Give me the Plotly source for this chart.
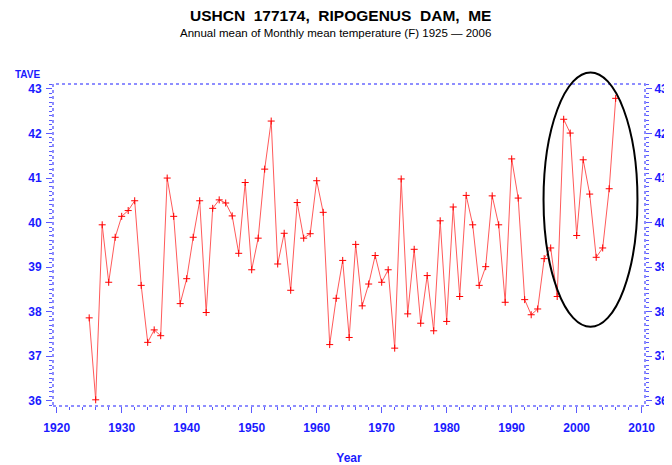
import plotly.graph_objects as go

years = list(range(1925, 2007))
tave = [37.86, 36.02, 39.95, 38.66, 39.67, 40.14, 40.27, 40.49, 38.59, 37.31,
        37.59, 37.46, 41.00, 40.14, 38.18, 38.74, 39.67, 40.49, 37.98, 40.32,
        40.51, 40.44, 40.15, 39.31, 40.90, 38.94, 39.65, 41.20, 42.28, 39.07,
        39.76, 38.48, 40.45, 39.65, 39.75, 40.94, 40.23, 37.26, 38.30, 39.15,
        37.42, 39.51, 38.13, 38.62, 39.26, 38.66, 38.94, 37.18, 40.98, 37.95,
        39.40, 37.74, 38.81, 37.57, 40.04, 37.78, 40.35, 38.34, 40.61, 39.95,
        38.59, 39.01, 40.60, 39.95, 38.21, 41.43, 40.55, 38.27, 37.93, 38.06,
        39.19, 39.43, 38.34, 42.32, 42.01, 39.71, 41.41, 40.64, 39.22, 39.43,
        40.76, 42.79]

x_ticks = [1920, 1930, 1940, 1950, 1960, 1970, 1980, 1990, 2000, 2010]
y_ticks = [36, 37, 38, 39, 40, 41, 42, 43]

title_text = "USHCN  177174,  RIPOGENUS  DAM,  ME"
subtitle_text = "Annual mean of Monthly mean temperature (F) 1925 \u2014 2006"

# highlight ellipse (data units)
ell_x = [1994.9, 2009.35]
ell_y = [37.66, 43.37]

x_range = [1919.43, 2010.51]
y_range = [35.881, 43.112]

BLUE = "#1a1aff"
TICKBLUE = "#5a5aff"
FONT = "Liberation Sans"

# plot area in page pixels: x 53..645, y 84..406
PX0, PX1, PY0, PY1 = 53, 645, 84, 406


def to_paper(v, r):
    return (v - r[0]) / (r[1] - r[0])


def px_x(px):
    return (px - PX0) / (PX1 - PX0)


def px_y(py):
    return (PY1 - py) / (PY1 - PY0)


fig = go.Figure()
fig.add_trace(go.Scatter(
    x=years, y=tave, mode="lines+markers",
    line=dict(color="#ff5a5a", width=1),
    marker=dict(symbol="cross-thin", size=5, line=dict(color="#ff0000", width=1)),
    showlegend=False, hoverinfo="x+y",
))
fig.add_trace(go.Scatter(
    x=years, y=tave, yaxis="y2", mode="lines",
    line=dict(color="rgba(0,0,0,0)", width=0),
    showlegend=False, hoverinfo="skip",
))

axis_common = dict(
    showgrid=False, zeroline=False, showline=False, automargin=False,
    ticks="outside", ticklen=6, tickwidth=1, tickcolor=TICKBLUE,
    tickfont=dict(family=FONT, size=12, color=BLUE, weight="bold"),
)

# the page body adds 8px offset; margins compensate
fig.update_layout(
    width=672, height=465,
    margin=dict(l=PX0 - 8, r=672 - (PX1 - 8), t=PY0 - 8, b=465 - (PY1 - 8)),
    paper_bgcolor="white", plot_bgcolor="white",
    xaxis=dict(
        range=x_range, tickvals=x_ticks, ticktext=[str(v) for v in x_ticks],
        ticklabelstandoff=5,
        minor=dict(dtick=2, tick0=1920, ticks="outside", ticklen=3, tickcolor=TICKBLUE),
        title=dict(text="Year", font=dict(family=FONT, size=12, color=BLUE, weight="bold"), standoff=19),
        **axis_common,
    ),
    yaxis=dict(
        range=y_range, tickvals=y_ticks, ticktext=[str(v) for v in y_ticks],
        minor=dict(dtick=0.1, tick0=36, ticks="outside", ticklen=3, tickcolor=TICKBLUE),
        ticklabelstandoff=2,
        **axis_common,
    ),
    yaxis2=dict(
        range=y_range, tickvals=y_ticks, ticktext=[str(v) for v in y_ticks],
        overlaying="y", side="right",
        minor=dict(dtick=0.1, tick0=36, ticks="outside", ticklen=3, tickcolor=TICKBLUE),
        ticklabelstandoff=0,
        **axis_common,
    ),
    shapes=[
        dict(type="rect", xref="paper", yref="paper", x0=0, x1=1, y0=0, y1=1,
             line=dict(color="#6a6aff", width=1.5, dash="dot"), layer="above"),
        dict(type="circle", xref="paper", yref="paper",
             x0=to_paper(ell_x[0], x_range), x1=to_paper(ell_x[1], x_range),
             y0=to_paper(ell_y[0], y_range), y1=to_paper(ell_y[1], y_range),
             line=dict(color="black", width=2), layer="above"),
    ],
    annotations=[
        dict(text="<b>" + title_text + "</b>", xref="paper", yref="paper",
             x=px_x(340), y=px_y(15), xanchor="center", yanchor="middle", showarrow=False,
             font=dict(family=FONT, size=15.5, color="black")),
        dict(text=subtitle_text, xref="paper", yref="paper",
             x=px_x(335), y=px_y(33), xanchor="center", yanchor="middle", showarrow=False,
             font=dict(family=FONT, size=11.5, color="black")),
        dict(text="<b>TAVE</b>", xref="paper", yref="paper",
             x=px_x(28), y=px_y(74), xanchor="center", yanchor="middle",
             showarrow=False, font=dict(family=FONT, size=10, color=BLUE)),
    ],
)

fig.write_html("out.html")
